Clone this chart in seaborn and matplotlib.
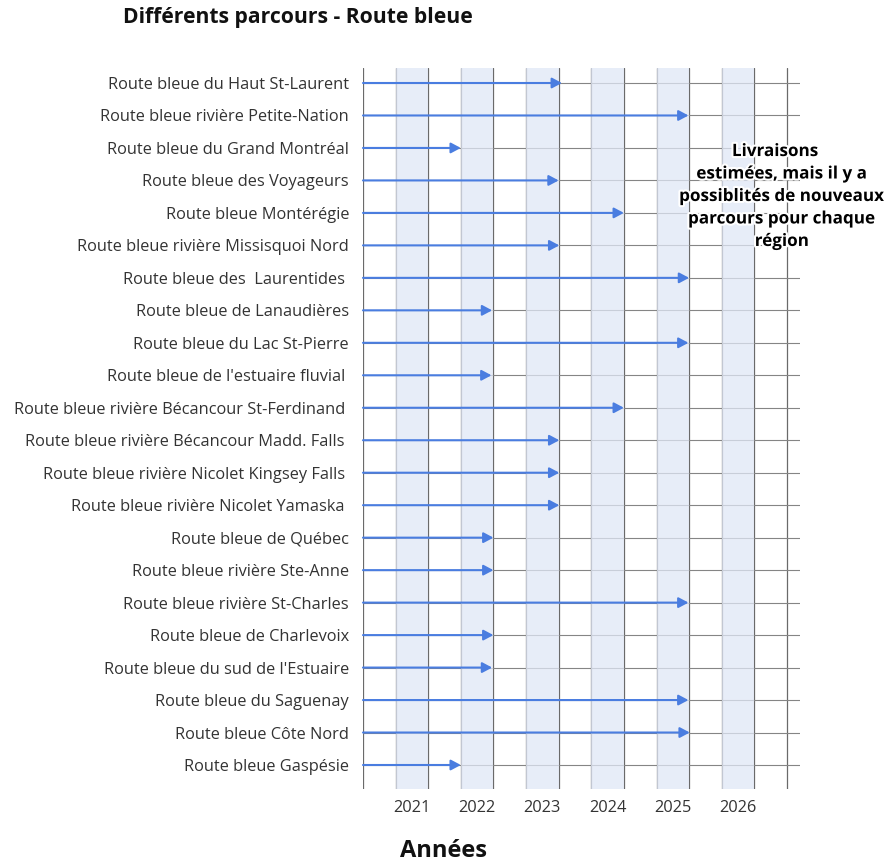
import matplotlib
matplotlib.use('Agg')
import matplotlib.pyplot as plt
import matplotlib.patheffects as pe
import numpy as np
import pandas as pd
import seaborn as sns

# ─── Data ─────────────────────────────────────────────────────────────────────
ROUTES = [
    'Route bleue du Haut St-Laurent',
    'Route bleue rivière Petite-Nation',
    'Route bleue du Grand Montréal',
    'Route bleue des Voyageurs',
    'Route bleue Montérégie',
    'Route bleue rivière Missisquoi Nord',
    'Route bleue des  Laurentides ',
    'Route bleue de Lanaudières',
    'Route bleue du Lac St-Pierre',
    "Route bleue de l'estuaire fluvial ",
    'Route bleue rivière Bécancour St-Ferdinand ',
    'Route bleue rivière Bécancour Madd. Falls ',
    'Route bleue rivière Nicolet Kingsey Falls ',
    'Route bleue rivière Nicolet Yamaska ',
    'Route bleue de Québec',
    'Route bleue rivière Ste-Anne',
    'Route bleue rivière St-Charles',
    'Route bleue de Charlevoix',
    "Route bleue du sud de l'Estuaire",
    'Route bleue du Saguenay',
    'Route bleue Côte Nord',
    'Route bleue Gaspésie',
]
# début / fin de livraison (années, 1 an = 2 colonnes de la grille)
DEBUT = [2020.25] * len(ROUTES)
FIN = [2023.30, 2025.24, 2021.75, 2023.25, 2024.25, 2023.26, 2025.25, 2022.23,
       2025.24, 2022.22, 2024.25, 2023.26, 2023.26, 2023.26, 2022.25, 2022.25,
       2025.24, 2022.25, 2022.23, 2025.24, 2025.26, 2021.75]
ANNEES = [2021, 2022, 2023, 2024, 2025, 2026]
GRILLE_X = [2020.25 + 0.5 * k for k in range(14)]

df = pd.DataFrame({'route': ROUTES, 'debut': DEBUT, 'fin': FIN})

# ─── Style ────────────────────────────────────────────────────────────────────
sns.set_theme(style='white')
plt.rcParams['font.family'] = ['Open Sans', 'DejaVu Sans']

BLUE = '#4a7de0'
BAND = '#e0e7f6'
TXT = '#333333'

fig = plt.figure(figsize=(8.91, 8.63), dpi=100)
ax = fig.add_axes([363 / 891, 1 - 789 / 863, (800 - 363) / 891, (789 - 68) / 863])

n = len(df)
ax.set_ylim(n - 1 + 0.739, -0.462)
ax.set_xlim(2020.25, 2026.95)

# grid
for gx in GRILLE_X:
    ax.axvline(gx, color='#6a6a6a', lw=0.9, zorder=1)
for i in range(n):
    ax.axhline(i, color='#858585', lw=0.8, zorder=1)

# bands per year
for an in ANNEES:
    ax.axvspan(an - 0.25, an + 0.25, color=BAND, alpha=0.75, lw=0, zorder=2)

# arrows
for i, row in df.iterrows():
    ax.annotate('', xy=(row['fin'], i), xytext=(row['debut'], i),
                arrowprops=dict(arrowstyle='-|>,head_length=0.45,head_width=0.24',
                                color=BLUE, lw=1.5, mutation_scale=13,
                                shrinkA=0, shrinkB=0), zorder=4)

ax.set_yticks(range(n))
ax.set_yticklabels(df['route'], fontsize=11.8, color=TXT)
ax.tick_params(axis='y', length=8, width=0.8, color='#858585', pad=2)

ax.set_xticks(ANNEES)
ax.set_xticklabels([str(a) for a in ANNEES], fontsize=11.8, color=TXT)
ax.tick_params(axis='x', length=0, pad=8)

for s in ax.spines.values():
    s.set_visible(False)

fig.text(298 / 891, 1 - 18 / 863, 'Différents parcours - Route bleue',
         ha='center', va='center', fontsize=15.2, fontweight='bold', color='#111111')
fig.text(443 / 891, 1 - 851 / 863, 'Années', ha='center', va='center',
         fontsize=17, fontweight='bold', color='#111111')

note = fig.text(782 / 891, 1 - 196 / 863,
                'Livraisons   \nestimées, mais il y a\npossiblités de nouveaux\nparcours pour chaque\nrégion',
                ha='center', va='center', fontsize=12.3, fontweight='bold',
                color='black', linespacing=1.32, zorder=10)
note.set_path_effects([pe.withStroke(linewidth=3, foreground='white')])

fig.savefig('out.png', dpi=100)
